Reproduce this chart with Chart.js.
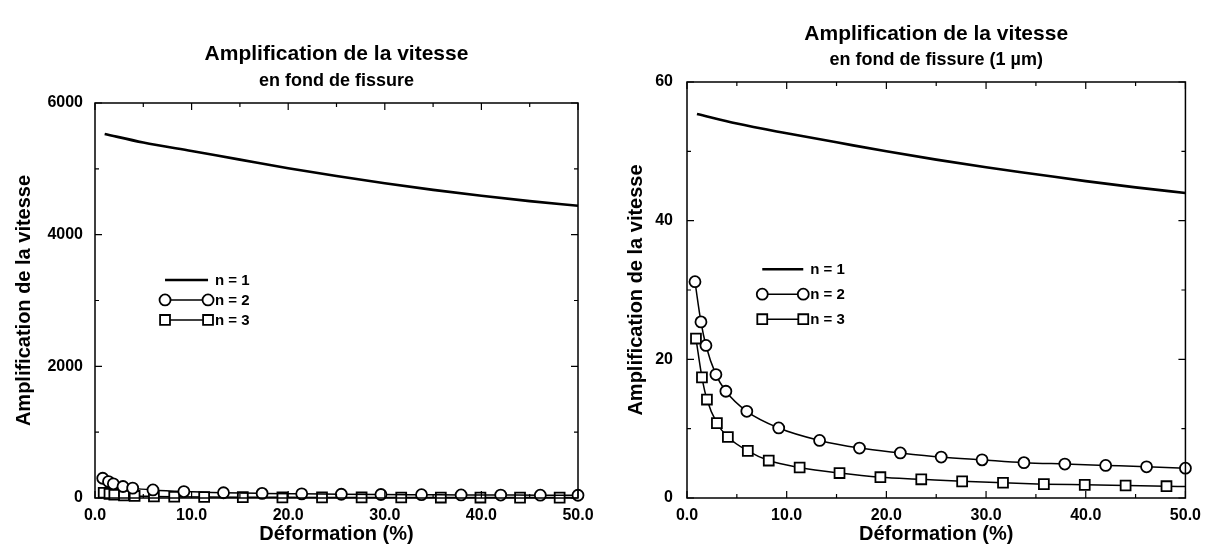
<!DOCTYPE html>
<html>
<head>
<meta charset="utf-8">
<script src="https://cdn.jsdelivr.net/npm/chart.js@4.4.1/dist/chart.umd.min.js"></script>
<style>
body { margin: 0; background: #fff; width: 1209px; height: 546px; overflow: hidden; position: relative; }
.panel { position: absolute; top: 0; height: 546px; }
</style>
</head>
<body>
<div class="panel" style="left:0;width:604px"><canvas id="leftChart"></canvas></div>
<div class="panel" style="left:604px;width:605px"><canvas id="rightChart"></canvas></div>
<script>
// deformation (%) where the markers sit
const xN1 = [1, 5, 10, 15, 20, 25, 30, 35, 40, 45, 50];
const xN2 = [0.8, 1.4, 1.9, 2.9, 3.9, 6.0, 9.2, 13.3, 17.3, 21.4, 25.5, 29.6, 33.8, 37.9, 42.0, 46.1, 50.0];
const xN3 = [0.9, 1.5, 2.0, 3.0, 4.1, 6.1, 8.2, 11.3, 15.3, 19.4, 23.5, 27.6, 31.7, 35.8, 39.9, 44.0, 48.1, 50.0];

// left panel: en fond de fissure
const leftN1 = [5530, 5400, 5270, 5140, 5010, 4890, 4780, 4680, 4590, 4510, 4440];
const leftN2 = [300, 250, 215, 175, 150, 122, 98, 80, 70, 63, 57, 53, 50, 47, 45, 43, 42];
const leftN3 = [80, 62, 50, 38, 31, 24, 19, 15, 12, 10, 9, 8, 7.5, 7, 6.5, 6, 5.8, 5.6];

// right panel: en fond de fissure (1 µm)
const rightN1 = [55.4, 54.0, 52.6, 51.3, 50.0, 48.8, 47.7, 46.7, 45.7, 44.8, 44.0];
const rightN2 = [31.2, 25.4, 22.0, 17.8, 15.4, 12.5, 10.1, 8.3, 7.2, 6.5, 5.9, 5.5, 5.1, 4.9, 4.7, 4.5, 4.3];
const rightN3 = [23.0, 17.4, 14.2, 10.8, 8.8, 6.8, 5.4, 4.4, 3.6, 3.0, 2.7, 2.4, 2.2, 2.0, 1.9, 1.8, 1.7, 1.65];

const seriesNames = ['n = 1', 'n = 2', 'n = 3'];
const xTicks = [0, 10, 20, 30, 40, 50];
const xMinor = [5, 15, 25, 35, 45];
const leftYTicks = [0, 2000, 4000, 6000];
const leftYMinor = [1000, 3000, 5000];
const rightYTicks = [0, 20, 40, 60];
const rightYMinor = [10, 30, 50];

const FONT = "'Liberation Sans', Arial, sans-serif";
Chart.defaults.font.family = FONT;
Chart.defaults.font.weight = 'bold';
Chart.defaults.color = '#000';

function pts(xs, ys) { return xs.map((x, i) => ({ x: x, y: ys[i] })); }

// box around the plot with ticks pointing inwards on all four sides
const framePlugin = {
  id: 'frame',
  afterDraw(chart, args, o) {
    const { ctx, chartArea: a, scales: { x, y } } = chart;
    ctx.save();
    ctx.strokeStyle = '#000';
    ctx.lineWidth = 1.5;
    ctx.strokeRect(a.left, a.top, a.right - a.left, a.bottom - a.top);
    ctx.lineWidth = 1.2;
    ctx.beginPath();
    const vx = (v, len) => {
      const px = x.getPixelForValue(v);
      ctx.moveTo(px, a.bottom); ctx.lineTo(px, a.bottom - len);
      ctx.moveTo(px, a.top); ctx.lineTo(px, a.top + len);
    };
    const vy = (v, len) => {
      const py = y.getPixelForValue(v);
      ctx.moveTo(a.left, py); ctx.lineTo(a.left + len, py);
      ctx.moveTo(a.right, py); ctx.lineTo(a.right - len, py);
    };
    xTicks.forEach(v => vx(v, 7));
    xMinor.forEach(v => vx(v, 4));
    o.yTicks.forEach(v => vy(v, 7));
    o.yMinor.forEach(v => vy(v, 4));
    ctx.stroke();
    ctx.restore();
  }
};

// legend drawn inside the plot: marker - line - marker, then the label
const legendPlugin = {
  id: 'inlegend',
  afterDraw(chart, args, o) {
    const { ctx, chartArea: a } = chart;
    const x0 = a.left + o.fx * (a.right - a.left);
    const x1 = x0 + o.len;
    ctx.save();
    ctx.font = 'bold 15px ' + FONT;
    ctx.textBaseline = 'middle';
    chart.data.datasets.forEach((ds, i) => {
      const yy = a.top + o.fy * (a.bottom - a.top) + i * o.gap;
      ctx.strokeStyle = '#000';
      ctx.lineWidth = ds.borderWidth;
      ctx.beginPath();
      ctx.moveTo(x0, yy); ctx.lineTo(x1, yy);
      ctx.stroke();
      if (ds.pointStyle !== false) {
        [x0, x1].forEach(px => {
          ctx.fillStyle = '#fff';
          ctx.strokeStyle = '#000';
          ctx.lineWidth = 1.8;
          Chart.helpers.drawPoint(ctx, {
            pointStyle: ds.pointStyle, radius: ds.legendRadius, rotation: 0, borderWidth: 1.8
          }, px, yy);
        });
      }
      ctx.fillStyle = '#000';
      ctx.fillText(ds.label, x1 + 7, yy + 1);
    });
    ctx.restore();
  }
};

// two-line heading centred over the plot area
const headingPlugin = {
  id: 'heading',
  afterDraw(chart, args, o) {
    const { ctx, chartArea: a } = chart;
    const cx = (a.left + a.right) / 2;
    ctx.save();
    ctx.fillStyle = '#000';
    ctx.textAlign = 'center';
    ctx.textBaseline = 'middle';
    ctx.font = 'bold 21px ' + FONT;
    ctx.fillText(o.lines[0], cx, o.y[0]);
    ctx.font = 'bold 18px ' + FONT;
    ctx.fillText(o.lines[1], cx, o.y[1]);
    ctx.restore();
  }
};

function makeChart(id, n1, n2, n3, yTicks, yMinor, heading, lay) {
  const lastN3 = xN3.length - 1;
  return new Chart(document.getElementById(id), {
    type: 'scatter',
    data: {
      datasets: [
        {
          label: seriesNames[0], data: pts(xN1, n1), showLine: true,
          borderColor: '#000', borderWidth: 2.6, pointRadius: 0, pointStyle: false,
          cubicInterpolationMode: 'monotone', clip: false
        },
        {
          label: seriesNames[1], data: pts(xN2, n2), showLine: true,
          borderColor: '#000', borderWidth: 1.5, backgroundColor: '#fff',
          pointStyle: 'circle', pointRadius: 5.5, legendRadius: 5.5, pointBorderWidth: 1.8,
          cubicInterpolationMode: 'monotone', clip: false
        },
        {
          label: seriesNames[2], data: pts(xN3, n3), showLine: true,
          borderColor: '#000', borderWidth: 1.5, backgroundColor: '#fff',
          pointStyle: 'rect', pointRadius: xN3.map((v, i) => i === lastN3 ? 0 : 7), legendRadius: 7,
          pointBorderWidth: 1.8, cubicInterpolationMode: 'monotone', clip: false
        }
      ]
    },
    options: {
      responsive: true,
      maintainAspectRatio: false,
      animation: false,
      layout: { padding: { top: lay.top, right: lay.right, left: 0, bottom: 0 } },
      plugins: {
        legend: { display: false },
        tooltip: { enabled: false },
        frame: { yTicks: yTicks, yMinor: yMinor },
        inlegend: lay.legend,
        heading: { lines: heading, y: lay.headY }
      },
      scales: {
        x: {
          type: 'linear', min: 0, max: 50,
          afterBuildTicks: s => { s.ticks = xTicks.map(v => ({ value: v })); },
          afterFit: s => { s.height = 48; },
          grid: { display: false, drawTicks: false },
          border: { display: false },
          ticks: { font: { size: 16, weight: 'bold' }, padding: 8, maxRotation: 0, callback: v => v.toFixed(1) },
          title: { display: true, text: 'Déformation (%)', font: { size: 20, weight: 'bold' }, padding: { top: 0, bottom: 0 } }
        },
        y: {
          type: 'linear', min: yTicks[0], max: yTicks[yTicks.length - 1],
          afterBuildTicks: s => { s.ticks = yTicks.map(v => ({ value: v })); },
          afterFit: s => { s.width = lay.yWidth; },
          grid: { display: false, drawTicks: false },
          border: { display: false },
          ticks: { font: { size: 16, weight: 'bold' }, padding: lay.tickPad, callback: v => String(v) },
          title: { display: true, text: 'Amplification de la vitesse', font: { size: 20, weight: 'bold' }, padding: { top: lay.titlePad, bottom: 0 } }
        }
      }
    },
    plugins: [framePlugin, legendPlugin, headingPlugin]
  });
}

makeChart('leftChart', leftN1, leftN2, leftN3, leftYTicks, leftYMinor,
  ['Amplification de la vitesse', 'en fond de fissure'],
  { top: 103, right: 26, yWidth: 95, tickPad: 12, titlePad: 12, headY: [54, 81],
    legend: { fx: 0.145, fy: 0.448, gap: 20, len: 43 } });

makeChart('rightChart', rightN1, rightN2, rightN3, rightYTicks, rightYMinor,
  ['Amplification de la vitesse', 'en fond de fissure (1 µm)'],
  { top: 82, right: 18, yWidth: 83, tickPad: 14, titlePad: 20, headY: [34, 60],
    legend: { fx: 0.151, fy: 0.45, gap: 25, len: 41 } });
</script>
</body>
</html>
